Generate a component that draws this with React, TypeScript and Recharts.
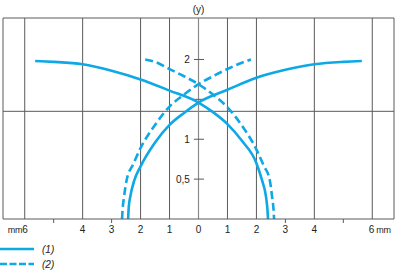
import React from 'react';
import { LineChart, Line, XAxis, YAxis, ReferenceLine } from 'recharts';

// series (1) solid: two mirrored arcs
const solidLeftArc = [
  { x: -5.64, y: 1.98 }, { x: -5, y: 1.97 }, { x: -4, y: 1.94 }, { x: -3, y: 1.86 },
  { x: -2, y: 1.75 }, { x: -1, y: 1.61 }, { x: 0, y: 1.46 }, { x: 0.5, y: 1.34 },
  { x: 1, y: 1.19 }, { x: 1.5, y: 0.98 }, { x: 2, y: 0.7 }, { x: 2.19, y: 0.49 },
  { x: 2.33, y: 0.28 }, { x: 2.38, y: 0.12 }, { x: 2.4, y: 0 },
];
const solidRightArc = [
  { x: -2.43, y: 0 }, { x: -2.41, y: 0.14 }, { x: -2.35, y: 0.29 }, { x: -2.22, y: 0.48 },
  { x: -2, y: 0.66 }, { x: -1.5, y: 0.96 }, { x: -1, y: 1.18 }, { x: -0.5, y: 1.33 },
  { x: 0, y: 1.46 }, { x: 1, y: 1.62 }, { x: 2, y: 1.77 }, { x: 3, y: 1.87 },
  { x: 4, y: 1.94 }, { x: 5, y: 1.97 }, { x: 5.64, y: 1.98 },
];
// series (2) dashed
const dashedLeftArc = [
  { x: -1.84, y: 2.0 }, { x: -1.5, y: 1.97 }, { x: -1, y: 1.88 }, { x: -0.5, y: 1.79 },
  { x: 0, y: 1.69 }, { x: 0.5, y: 1.56 }, { x: 1, y: 1.4 }, { x: 1.5, y: 1.17 },
  { x: 2, y: 0.87 }, { x: 2.25, y: 0.67 }, { x: 2.46, y: 0.49 }, { x: 2.54, y: 0.28 },
  { x: 2.59, y: 0.12 }, { x: 2.61, y: 0 },
];
const dashedRightArc = [
  { x: -2.64, y: 0 }, { x: -2.62, y: 0.12 }, { x: -2.57, y: 0.28 }, { x: -2.48, y: 0.49 },
  { x: -2.25, y: 0.69 }, { x: -2, y: 0.89 }, { x: -1.5, y: 1.18 }, { x: -1, y: 1.41 },
  { x: -0.5, y: 1.56 }, { x: 0, y: 1.69 }, { x: 0.5, y: 1.79 }, { x: 1, y: 1.88 },
  { x: 1.5, y: 1.96 }, { x: 1.81, y: 2.0 },
];

const seriesNames = ['(1)', '(2)'];

const xTicks = [-6, -5, -4, -3, -2, -1, 0, 1, 2, 3, 4, 5, 6];
const xTickLabels = ['6', '', '4', '3', '2', '1', '0', '1', '2', '3', '4', '', '6'];
const xMinorTicks = [-5, -3, 3, 5];
const xGridLines = [-6, -4, -2, -1, 1, 2, 4, 6];
const xUnit = 'mm';

const yTicks = [0.5, 1, 1.5, 2];
const yTickLabels = ['0,5', '1', '', '2'];
const yReferenceLevel = 1.35;
const yAxisName = '(y)';

const X_DOMAIN: [number, number] = [-6.75, 6.75];
const Y_DOMAIN: [number, number] = [0, 2.52];

const BLUE = '#0ea8e6';
const GRID = '#5a5a5a';
const AXIS = '#8a8a8a';
const FONT = "'Liberation Sans', Arial, sans-serif";
const FS = 10;

const XTick = (props: any) => {
  const { x, y, payload } = props;
  const idx = xTicks.indexOf(payload.value);
  const label = idx >= 0 ? xTickLabels[idx] : '';
  const minor = xMinorTicks.includes(payload.value);
  let text: React.ReactNode = null;
  if (label) {
    if (payload.value === xTicks[0]) {
      text = (
        <text x={x + 3} y={y + 14} textAnchor="end" fontSize={FS} fill="#222" fontFamily={FONT}>
          <tspan fontSize={9} letterSpacing={-0.3}>{xUnit}</tspan>
          <tspan>{label}</tspan>
        </text>
      );
    } else if (payload.value === xTicks[xTicks.length - 1]) {
      text = (
        <text x={x - 3.5} y={y + 14} textAnchor="start" fontSize={FS} fill="#222" fontFamily={FONT}>
          <tspan>{label}</tspan>
          <tspan dx={2} fontSize={9} letterSpacing={-0.3}>{xUnit}</tspan>
        </text>
      );
    } else {
      text = (
        <text x={x} y={y + 14} textAnchor="middle" fontSize={FS} fill="#222" fontFamily={FONT}>
          {label}
        </text>
      );
    }
  }
  return (
    <g>
      {minor && <line x1={x} x2={x} y1={y} y2={y + 4} stroke={GRID} strokeWidth={1} />}
      {text}
    </g>
  );
};

const AxisNameLabel = (props: any) => {
  const vb = props.viewBox || {};
  return (
    <text x={vb.x} y={(vb.y ?? 18) - 5.5} textAnchor="middle" fontSize={FS} fill="#222" fontFamily={FONT}>
      {yAxisName}
    </text>
  );
};

const YTickLabel = (props: any) => {
  const vb = props.viewBox || {};
  return (
    <text x={vb.x - 4} y={vb.y + 3.5} textAnchor="end" fontSize={FS} fill="#222" fontFamily={FONT}>
      {props.value}
    </text>
  );
};

export default function App() {
  return (
    <div style={{ position: 'absolute', left: 0, top: 0, width: 397, height: 273, background: '#fff' }}>
      <LineChart
        width={397}
        height={273}
        margin={{ top: 18, right: 3, left: 3, bottom: 24 }}
        style={{ overflow: 'visible' }}
      >
        <XAxis
          type="number"
          dataKey="x"
          domain={X_DOMAIN}
          ticks={xTicks}
          allowDataOverflow
          height={30}
          tickSize={0}
          tickMargin={0}
          tickLine={false}
          axisLine={{ stroke: GRID, strokeWidth: 1 }}
          tick={<XTick />}
          interval={0}
        />
        <YAxis type="number" dataKey="y" domain={Y_DOMAIN} hide allowDataOverflow />
        {xGridLines.map((v) => (
          <ReferenceLine key={'g' + v} x={v} stroke={GRID} strokeWidth={1} />
        ))}
        <ReferenceLine x={X_DOMAIN[0]} stroke={GRID} strokeWidth={1} />
        <ReferenceLine x={X_DOMAIN[1]} stroke={GRID} strokeWidth={1} />
        <ReferenceLine y={Y_DOMAIN[1]} stroke={GRID} strokeWidth={1} />
        <ReferenceLine y={yReferenceLevel} stroke={GRID} strokeWidth={1} />
        <ReferenceLine x={0} stroke={AXIS} strokeWidth={1.2} label={<AxisNameLabel />} />
        {yTicks.map((v, i) => (
          <ReferenceLine
            key={'yt' + v}
            segment={[{ x: -0.16, y: v }, { x: 0.19, y: v }]}
            stroke={GRID}
            strokeWidth={1}
            label={yTickLabels[i] ? <YTickLabel value={yTickLabels[i]} /> : undefined}
          />
        ))}
        <Line data={solidLeftArc} dataKey="y" type="monotone" stroke={BLUE} strokeWidth={2.6} dot={false} isAnimationActive={false} name={seriesNames[0]} />
        <Line data={solidRightArc} dataKey="y" type="monotone" stroke={BLUE} strokeWidth={2.6} dot={false} isAnimationActive={false} name={seriesNames[0]} />
        <Line data={dashedLeftArc} dataKey="y" type="monotone" stroke={BLUE} strokeWidth={2.6} strokeDasharray="8 4" dot={false} isAnimationActive={false} name={seriesNames[1]} />
        <Line data={dashedRightArc} dataKey="y" type="monotone" stroke={BLUE} strokeWidth={2.6} strokeDasharray="8 4" dot={false} isAnimationActive={false} name={seriesNames[1]} />
      </LineChart>
      <svg width={80} height={30} style={{ position: 'absolute', left: 0, top: 242 }}>
        <line x1={0} x2={34} y1={7} y2={7} stroke={BLUE} strokeWidth={2.6} />
        <text x={42} y={10.5} fontSize={FS} fontStyle="italic" fill="#222" fontFamily={FONT}>{seriesNames[0]}</text>
        <line x1={0} x2={34} y1={22} y2={22} stroke={BLUE} strokeWidth={2.6} strokeDasharray="7 2.5" />
        <text x={42} y={25.5} fontSize={FS} fontStyle="italic" fill="#222" fontFamily={FONT}>{seriesNames[1]}</text>
      </svg>
    </div>
  );
}
